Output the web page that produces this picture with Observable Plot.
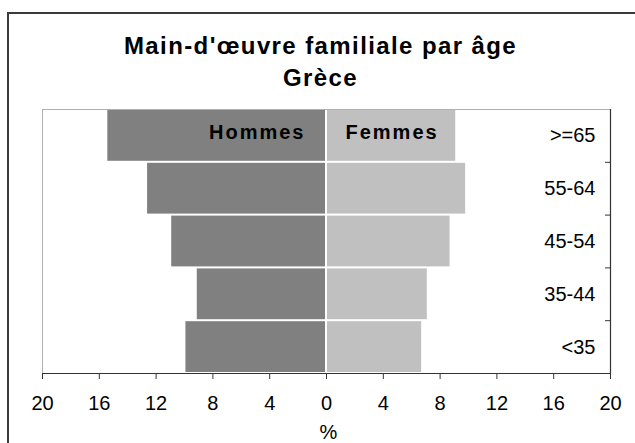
<!DOCTYPE html>
<html>
<head>
<meta charset="utf-8">
<script src="https://cdn.jsdelivr.net/npm/d3@7"></script>
<script src="https://cdn.jsdelivr.net/npm/@observablehq/plot@0.6"></script>
<style>
  html, body { margin: 0; padding: 0; background: #fff; overflow: hidden; }
  #wrap { position: relative; width: 635px; height: 443px; overflow: hidden; }
  #frame { position: absolute; left: 7px; top: 12px; width: 700px; height: 600px; border: 2px solid #3a3a3a; box-sizing: border-box; }
  #chart { position: absolute; left: 0; top: 0; }
  svg text { font-family: Arial, "Liberation Sans", sans-serif; }
  .title text { letter-spacing: 1.4px; }
  .sexlbl text { letter-spacing: 2px; }
</style>
</head>
<body>
<div id="wrap"><div id="frame"></div><div id="chart"></div></div>
<script>
const title = "Main-d'œuvre familiale par âge";
const subtitle = "Grèce";
const categories = [">=65", "55-64", "45-54", "35-44", "<35"];
const hommes = [15.4, 12.6, 10.9, 9.1, 9.9];
const femmes = [9.1, 9.8, 8.7, 7.1, 6.7];
const sexLabels = ["Hommes", "Femmes"];
const xTicks = [-20, -16, -12, -8, -4, 0, 4, 8, 12, 16, 20];
const xLabel = "%";

const n = categories.length;
const rows = categories.map((c, i) => ({cat: c, pos: n - 1 - i, h: hommes[i], f: femmes[i]}));
const font = "Arial, 'Liberation Sans', sans-serif";

const chart = Plot.plot({
  width: 635,
  height: 443,
  marginTop: 109,
  marginBottom: 70,
  marginLeft: 42,
  marginRight: 25,
  style: {fontFamily: font, color: "#000", background: "transparent"},
  x: {domain: [-20, 20], axis: null},
  y: {domain: [0, n], axis: null},
  marks: [
    Plot.frame({stroke: "#b0b0b0"}),
    Plot.rect(rows, {x1: 0, x2: d => -d.h, y1: "pos", y2: d => d.pos + 1, fill: "#808080", insetTop: 1, insetBottom: 1, insetRight: 1}),
    Plot.rect(rows, {x1: 0, x2: "f", y1: "pos", y2: d => d.pos + 1, fill: "#c0c0c0", insetTop: 1, insetBottom: 1, insetLeft: 1}),
    Plot.ruleX([20], {stroke: "#333", strokeWidth: 1.2}),
    Plot.ruleY([0], {stroke: "#333", strokeWidth: 1.2}),
    Plot.ruleY(d3.range(1, n), {x1: 19.65, x2: 20, stroke: "#333"}),
    Plot.axisX({ticks: xTicks, tickFormat: d => Math.abs(d), tickSize: 6, tickPadding: 16, fontSize: 20, label: null, stroke: "#333", fill: "#000"}),
    Plot.text(rows, {x: 20, y: d => d.pos + 0.5, text: "cat", textAnchor: "end", dx: -15, fontSize: 20, fill: "#000"}),
    Plot.text([sexLabels[0]], {x: 0, y: n - 0.5, text: d => d, textAnchor: "end", dx: -21, dy: -3, fontSize: 20, fontWeight: "bold", fill: "#000", className: "sexlbl"}),
    Plot.text([sexLabels[1]], {x: 0, y: n - 0.5, text: d => d, textAnchor: "start", dx: 19, dy: -3, fontSize: 20, fontWeight: "bold", fill: "#000", className: "sexlbl"}),
    Plot.text([xLabel], {frameAnchor: "bottom", text: d => d, lineAnchor: "bottom", dy: 65, dx: 2, fontSize: 20, fill: "#000"}),
    Plot.text([title], {frameAnchor: "top", text: d => d, lineAnchor: "bottom", dy: -56, dx: -6, fontSize: 24, fontWeight: "bold", fill: "#000", className: "title"}),
    Plot.text([subtitle], {frameAnchor: "top", text: d => d, lineAnchor: "bottom", dy: -24, dx: -6, fontSize: 24, fontWeight: "bold", fill: "#000", className: "title"})
  ]
});
document.getElementById("chart").appendChild(chart);
</script>
</body>
</html>
